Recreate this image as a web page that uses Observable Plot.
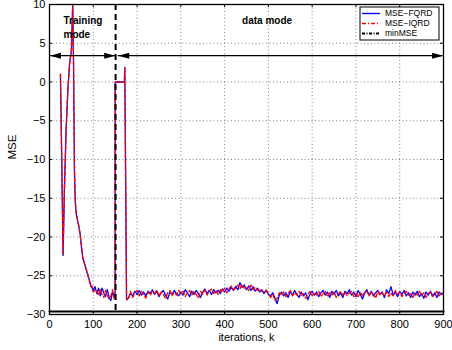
<!DOCTYPE html>
<html><head><meta charset="utf-8">
<script src="https://cdn.jsdelivr.net/npm/d3@7"></script>
<script src="https://cdn.jsdelivr.net/npm/@observablehq/plot@0.6"></script>
<style>body{margin:0;background:#fff;} svg{font-family:"Liberation Sans",Arial,Helvetica,sans-serif;}</style>
</head><body><div id="chart"></div>
<script>
// ---- data ----
const trainK = [25, 28, 31, 34, 38, 42, 46, 50, 53, 55, 57, 59, 61, 64, 67, 70, 73, 76, 79, 82, 85, 88, 91, 94, 97, 100,
  104, 108, 112, 116, 120, 124, 128, 132, 136, 140, 144, 148, 150, 150, 171, 172, 176];
const trainFQRD = [1.0, -10, -22.4, -14, -6, -1, 2.5, 4, 10, 2, -11.5, -15.5, -17, -17.8, -18.7, -19.6, -21.3, -22.6, -23.3, -23.8, -24.5, -24.9, -25.6, -26.2, -26.5, -26.9,
  -26.4, -27.3, -26.6, -27.6, -26.6, -27.2, -27.7, -26.8, -27.8, -28.2, -27.1, -27.8, -27.0, 0, 0, 1.9, -28.0];
const trainIQRD = [1.0, -10.2, -22.3, -14.2, -6.1, -1.1, 2.4, 4.1, 10, 2.2, -11.3, -15.7, -16.8, -17.9, -18.5, -19.8, -21.1, -22.8, -23.2, -24.0, -24.3, -25.1, -25.5, -26.4, -26.3, -27.1,
  -26.8, -27.0, -27.5, -26.7, -27.4, -27.8, -26.9, -27.5, -28.0, -27.6, -26.8, -28.0, -27.2, 0, 0, 1.9, -28.1];
const dataStartK = 180, dataStepK = 5;
const dataFQRD = [
  -27.9, -27.3, -27.6, -27.0, -27.4, -26.9, -27.5, -27.1, -27.6, -27.0,
  -27.3, -26.8, -27.4, -27.0, -27.7, -27.2, -26.9, -27.5, -28.0, -27.1,
  -27.4, -26.9, -27.3, -27.6, -27.1, -27.5, -26.8, -27.2, -27.7, -27.0,
  -27.4, -26.9, -27.3, -27.8, -27.1, -26.7, -27.3, -26.9, -27.4, -26.8,
  -27.2, -26.9, -27.3, -26.7, -27.1, -26.6, -27.0, -26.5, -26.9, -26.4,
  -26.8, -25.9, -26.5, -26.2, -26.8, -26.3, -26.9, -26.4, -27.0, -26.6,
  -27.1, -26.8, -27.3, -26.9, -27.4, -27.6, -27.2, -27.9, -28.6, -27.5,
  -27.1, -27.6, -27.2, -27.8, -27.0, -27.5, -26.9, -27.4, -27.8, -27.1,
  -27.6, -27.2, -28.1, -27.4, -27.0, -27.5, -27.1, -27.7, -27.2, -26.9,
  -27.5, -27.1, -27.8, -27.0, -27.4, -26.9, -27.6, -27.2, -27.8, -27.0,
  -27.3, -26.8, -27.5, -27.1, -27.7, -26.9, -27.4, -28.0, -27.2, -26.8,
  -27.5, -27.0, -27.6, -27.2, -26.9, -27.4, -27.1, -27.8, -26.8, -27.3,
  -26.4, -27.5, -27.1, -27.7, -27.0, -27.4, -26.9, -27.6, -27.2, -27.8,
  -27.1, -27.5, -27.0, -27.7, -27.3, -27.9, -27.1, -27.5, -27.0, -27.6,
  -27.2, -27.8, -27.1, -27.4, -27.2];
const dataIQRD = [
  -28.1, -27.0, -27.8, -27.2, -26.9, -27.6, -27.0, -27.4, -27.9, -27.1,
  -27.5, -27.0, -27.3, -26.8, -27.6, -27.1, -27.4, -27.9, -27.2, -26.9,
  -27.6, -27.1, -27.5, -26.9, -27.3, -27.0, -27.7, -27.2, -26.9, -27.5,
  -27.0, -27.4, -27.9, -27.0, -27.4, -26.8, -27.5, -27.0, -26.7, -27.3,
  -26.9, -27.4, -26.8, -27.1, -26.6, -27.2, -26.7, -26.3, -26.8, -26.6,
  -26.2, -26.7, -26.1, -26.6, -26.4, -26.9, -26.2, -26.8, -26.5, -26.9,
  -26.7, -27.0, -27.1, -26.8, -27.3, -27.8, -27.4, -28.2, -27.9, -27.2,
  -27.5, -27.1, -27.7, -27.3, -26.9, -27.6, -27.2, -27.5, -27.0, -27.6,
  -27.3, -27.9, -27.4, -27.0, -27.6, -27.2, -27.5, -27.0, -27.7, -27.3,
  -27.0, -27.7, -27.2, -27.5, -27.1, -27.8, -27.3, -27.0, -27.5, -27.1,
  -27.6, -27.2, -27.0, -27.7, -27.3, -27.8, -27.1, -27.5, -27.2, -27.0,
  -27.6, -27.1, -27.4, -27.9, -27.0, -27.5, -27.2, -27.6, -27.1, -27.7,
  -27.2, -27.6, -26.9, -27.4, -27.1, -27.7, -27.3, -27.0, -27.5, -27.3,
  -27.8, -27.2, -27.5, -27.0, -27.6, -27.2, -27.8, -27.3, -27.1, -27.7,
  -27.4, -27.0, -27.6, -27.2, -27.5];
const minMSE = -29.6;
const xTicks = [0, 100, 200, 300, 400, 500, 600, 700, 800, 900];
const yTicks = [-30, -25, -20, -15, -10, -5, 0, 5, 10];
const dividerK = 151;
const arrowLevel = 3.4;
const arrowSpans = [{x1: 1, x2: 150}, {x1: 157, x2: 899}];
const modeLabels = [
  {k: 32, v: 7.9, text: "Training"},
  {k: 32, v: 6.1, text: "mode"},
  {k: 440, v: 7.9, text: "data mode"}
];
const legendNames = ["MSE\u2212FQRD", "MSE\u2212IQRD", "minMSE"];
const legendColors = ["#0000ff", "#ff0000", "#000000"];
const legendDash = ["none", "4,2,1,2", "3,1.5,1,1.5"];

// ---- build tables ----
const toSeries = (train, data) =>
  trainK.map((k, i) => ({k, v: train[i]}))
    .concat(data.map((v, i) => ({k: dataStartK + i * dataStepK, v})));
const fqrd = toSeries(trainFQRD, dataFQRD);
const iqrd = toSeries(trainIQRD, dataIQRD);
const minLine = [{k: 0, v: minMSE}, {k: 900, v: minMSE}];

const headRight = {draw(ctx) { ctx.moveTo(0, 0); ctx.lineTo(-11, -3); ctx.lineTo(-11, 3); ctx.closePath(); }};
const headLeft = {draw(ctx) { ctx.moveTo(0, 0); ctx.lineTo(11, -3); ctx.lineTo(11, 3); ctx.closePath(); }};

function legendMark(index, scales, values, dims) {
  const g = d3.create("svg:g");
  const x0 = dims.width - dims.marginRight - 83, y0 = dims.marginTop + 3;
  g.append("rect").attr("x", x0).attr("y", y0).attr("width", 79).attr("height", 33)
    .attr("fill", "white").attr("stroke", "black").attr("stroke-width", 1);
  legendNames.forEach((name, i) => {
    const yy = y0 + 6.5 + i * 10;
    g.append("line").attr("x1", x0 + 2).attr("x2", x0 + 20).attr("y1", yy).attr("y2", yy)
      .style("stroke", legendColors[i]).attr("stroke-width", i === 2 ? 1.8 : 1.4)
      .attr("stroke-dasharray", legendDash[i]);
    g.append("text").attr("x", x0 + 25).attr("y", yy).attr("dy", "0.34em")
      .attr("text-anchor", "start")
      .attr("font-size", 8.5).attr("fill", "black").text(name);
  });
  return g.node();
}

const W = 452, H = 350, mL = 49, mR = 9, mT = 4, mB = 36;
const frameW = W - mL - mR, frameH = H - mT - mB;

const chart = Plot.plot({
  width: W, height: H,
  marginLeft: mL, marginRight: mR, marginTop: mT, marginBottom: mB,
  style: {fontSize: "11px", fontFamily: "'Liberation Sans', Arial, sans-serif", color: "black", background: "white"},
  x: {domain: [0, 900], ticks: xTicks, tickSize: 0, tickPadding: 6, label: null},
  y: {domain: [-30, 10], ticks: yTicks, tickSize: 0, tickPadding: 4, label: null, tickFormat: d => d < 0 ? "\u2212" + Math.abs(d) : String(d)},
  marks: [
    Plot.ruleX(xTicks, {x: d => d, stroke: "#666", strokeDasharray: "1,2.5", strokeWidth: 0.8}),
    Plot.ruleY(yTicks, {y: d => d, stroke: "#666", strokeDasharray: "1,2.5", strokeWidth: 0.8}),
    Plot.tickX(xTicks, {x: d => d, insetTop: frameH - 3, stroke: "black"}),
    Plot.tickX(xTicks, {x: d => d, insetBottom: frameH - 3, stroke: "black"}),
    Plot.tickY(yTicks, {y: d => d, insetRight: frameW - 3, stroke: "black"}),
    Plot.tickY(yTicks, {y: d => d, insetLeft: frameW - 3, stroke: "black"}),
    Plot.line(minLine, {x: "k", y: "v", stroke: "black", strokeWidth: 2}),
    Plot.line(fqrd, {x: "k", y: "v", stroke: "#0000ff", strokeWidth: 1.3}),
    Plot.line(iqrd, {x: "k", y: "v", stroke: "#ff0000", strokeWidth: 1.3, strokeDasharray: "4,2.5"}),
    Plot.ruleX([dividerK], {x: d => d, stroke: "black", strokeWidth: 2, strokeDasharray: "6,4"}),
    Plot.ruleY(arrowSpans, {x1: "x1", x2: "x2", y: () => arrowLevel, stroke: "black", strokeWidth: 1.3}),
    Plot.dot(arrowSpans, {x: "x2", y: () => arrowLevel, symbol: headRight, fill: "black", stroke: null}),
    Plot.dot(arrowSpans, {x: "x1", y: () => arrowLevel, symbol: headLeft, fill: "black", stroke: null}),
    Plot.text(modeLabels, {x: "k", y: "v", text: "text", textAnchor: "start", fontWeight: "bold", fontSize: 10, fill: "black"}),
    Plot.text(["MSE"], {frameAnchor: "left", dx: -37, rotate: -90, fontSize: 11.5, fill: "black"}),
    Plot.text(["iterations, k"], {frameAnchor: "bottom", dy: 26, fontSize: 11, fill: "black"}),
    Plot.frame({stroke: "black", strokeWidth: 1.3}),
    legendMark
  ]
});
document.getElementById("chart").appendChild(chart);
</script>
</body></html>
